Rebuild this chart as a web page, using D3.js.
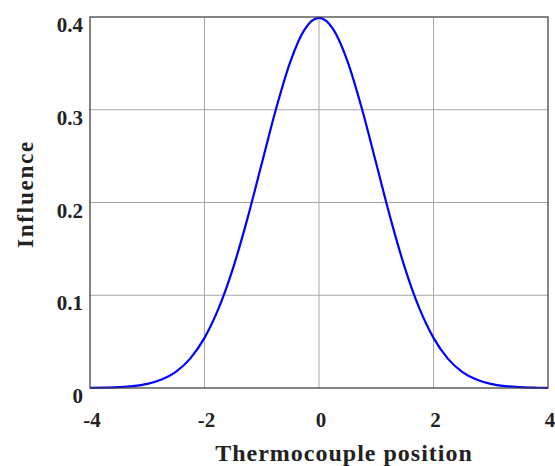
<!DOCTYPE html>
<html>
<head>
<meta charset="utf-8">
<script src="https://cdn.jsdelivr.net/npm/d3@7"></script>
<style>
  body { margin: 0; background: #fff; }
  svg text { font-family: "Liberation Serif", "Times New Roman", serif; font-weight: bold; fill: #222; }
</style>
</head>
<body>
<svg id="chart" width="555" height="466"></svg>
<script>
// data
var positions = [-4, -3.75, -3.5, -3.25, -3, -2.75, -2.5, -2.25, -2, -1.75, -1.5, -1.25, -1, -0.75, -0.5, -0.25,
                 0, 0.25, 0.5, 0.75, 1, 1.25, 1.5, 1.75, 2, 2.25, 2.5, 2.75, 3, 3.25, 3.5, 3.75, 4];
var influence = [0.0001, 0.0004, 0.0009, 0.002, 0.0044, 0.0091, 0.0175, 0.0317, 0.054, 0.0863, 0.1295, 0.1826, 0.242, 0.3011, 0.352, 0.3867,
                 0.399, 0.3867, 0.352, 0.3011, 0.242, 0.1826, 0.1295, 0.0863, 0.054, 0.0317, 0.0175, 0.0091, 0.0044, 0.002, 0.0009, 0.0004, 0.0001];
var xTicks = [-4, -2, 0, 2, 4];
var yTicks = [0, 0.1, 0.2, 0.3, 0.4];

drawChart();
function drawChart(){
    var pLeft = 90, pRight = 548, pTop = 17, pBottom = 388;

    var svg = d3.select('#chart');
    var x = d3.scaleLinear().domain([-4, 4]).range([pLeft, pRight]);
    var y = d3.scaleLinear().domain([0, 0.4]).range([pBottom, pTop]);

    // grid
    svg.append('g').selectAll('line').data(xTicks.slice(1, -1)).enter()
        .append('line')
        .attr('x1', function(d) { return x(d); }).attr('x2', function(d) { return x(d); })
        .attr('y1', pTop).attr('y2', pBottom)
        .attr('stroke', '#a6a6a6').attr('stroke-width', 1);
    svg.append('g').selectAll('line').data(yTicks.slice(1, -1)).enter()
        .append('line')
        .attr('x1', pLeft).attr('x2', pRight)
        .attr('y1', function(d) { return y(d); }).attr('y2', function(d) { return y(d); })
        .attr('stroke', '#a6a6a6').attr('stroke-width', 1);

    // tick labels (sit a bit lower than the ticks, like the original export)
    svg.append('g').selectAll('text').data(yTicks).enter()
        .append('text')
        .attr('x', 83)
        .attr('y', function(d) { return y(d) + 15; })
        .attr('text-anchor', 'end')
        .attr('font-size', 21)
        .text(function(d) { return d === 0 ? '0' : d3.format('.1f')(d); });

    svg.append('g').selectAll('text').data(xTicks).enter()
        .append('text')
        .attr('x', function(d) { return x(d) + 2; })
        .attr('y', 427)
        .attr('text-anchor', 'middle')
        .attr('font-size', 21)
        .text(function(d) { return d; });

    // curve
    var line = d3.line()
        .x(function(d, i) { return x(positions[i]); })
        .y(function(d) { return y(d); })
        .curve(d3.curveMonotoneX);

    svg.append('path')
        .datum(influence)
        .attr('d', line)
        .attr('fill', 'none')
        .attr('stroke', '#0000ff')
        .attr('stroke-width', 2.2);

    // box
    svg.append('rect')
        .attr('x', pLeft).attr('y', pTop)
        .attr('width', pRight - pLeft).attr('height', pBottom - pTop)
        .attr('fill', 'none').attr('stroke', '#444').attr('stroke-width', 1.3);

    // axis titles
    svg.append('text')
        .attr('x', 344).attr('y', 461)
        .attr('text-anchor', 'middle')
        .attr('font-size', 24)
        .attr('letter-spacing', 1)
        .text('Thermocouple position');

    svg.append('text')
        .attr('transform', 'translate(33,194) rotate(-90)')
        .attr('text-anchor', 'middle')
        .attr('font-size', 23)
        .attr('letter-spacing', 1.8)
        .text('Influence');
}
</script>
</body>
</html>
